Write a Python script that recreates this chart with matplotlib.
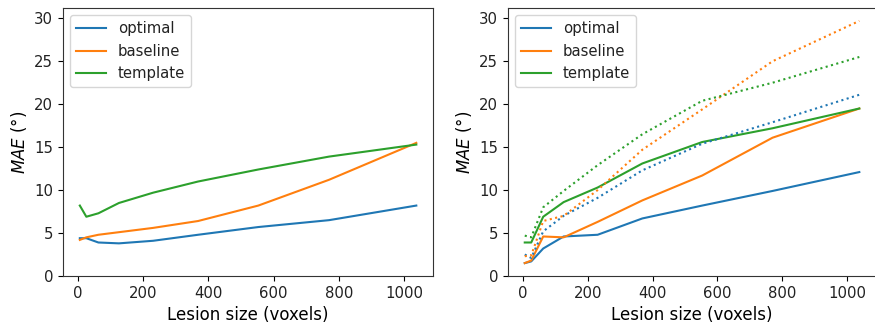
import matplotlib
matplotlib.use("Agg")
import matplotlib.pyplot as plt

# Lesion size bins (voxels)
lesion_size = [5, 25, 62, 125, 230, 368, 553, 770, 1038]

# Left panel: mean absolute error per method
optimal_left = [4.4, 4.4, 3.9, 3.8, 4.1, 4.8, 5.7, 6.5, 8.2]
baseline_left = [4.2, 4.5, 4.8, 5.1, 5.6, 6.4, 8.2, 11.2, 15.5]
template_left = [8.2, 6.9, 7.3, 8.5, 9.7, 11.0, 12.4, 13.9, 15.3]

# Right panel: solid and dotted variants per method
optimal_right = [1.5, 1.7, 3.2, 4.6, 4.8, 6.7, 8.2, 9.9, 12.1]
baseline_right = [1.5, 1.8, 4.6, 4.5, 6.3, 8.8, 11.7, 16.1, 19.5]
template_right = [3.9, 3.9, 6.9, 8.6, 10.3, 13.1, 15.6, 17.2, 19.5]
optimal_right_dot = [2.5, 2.1, 5.2, 7.0, 9.1, 12.3, 15.4, 17.9, 21.1]
baseline_right_dot = [2.3, 2.4, 6.4, 7.0, 10.0, 14.7, 19.4, 25.0, 29.7]
template_right_dot = [4.7, 4.5, 8.0, 9.9, 12.9, 16.5, 20.4, 22.5, 25.5]

labels = ["optimal", "baseline", "template"]
colors = ["tab:blue", "tab:orange", "tab:green"]

plt.rcParams["font.family"] = ["DejaVu Sans"]
plt.rcParams["font.size"] = 10.7
plt.rcParams["axes.labelsize"] = 12
plt.rcParams["text.color"] = "#222222"
plt.rcParams["xtick.labelcolor"] = "#222222"
plt.rcParams["ytick.labelcolor"] = "#222222"
plt.rcParams["axes.edgecolor"] = "#333333"

fig = plt.figure(figsize=(8.75, 3.26), dpi=100)
ax1 = fig.add_axes([0.072, 0.1534, 0.423, 0.822])
ax2 = fig.add_axes([0.5806, 0.1534, 0.4206, 0.822])

for vals, lab, c in zip([optimal_left, baseline_left, template_left], labels, colors):
    ax1.plot(lesion_size, vals, color=c, lw=1.5, label=lab)

for vals, lab, c in zip([optimal_right, baseline_right, template_right], labels, colors):
    ax2.plot(lesion_size, vals, color=c, lw=1.5, label=lab)
for vals, c in zip([optimal_right_dot, baseline_right_dot, template_right_dot], colors):
    ax2.plot(lesion_size, vals, color=c, lw=1.5, ls=":")

for ax in (ax1, ax2):
    ax.set_ylim(0, 31.2)
    ax.set_yticks([0, 5, 10, 15, 20, 25, 30])
    ax.set_xticks([0, 200, 400, 600, 800, 1000])
    ax.set_xlabel("Lesion size (voxels)")
    ax.set_ylabel(r"$MAE$ (°)")
    ax.legend(loc="upper left")

fig.savefig("out.png", dpi=100)
